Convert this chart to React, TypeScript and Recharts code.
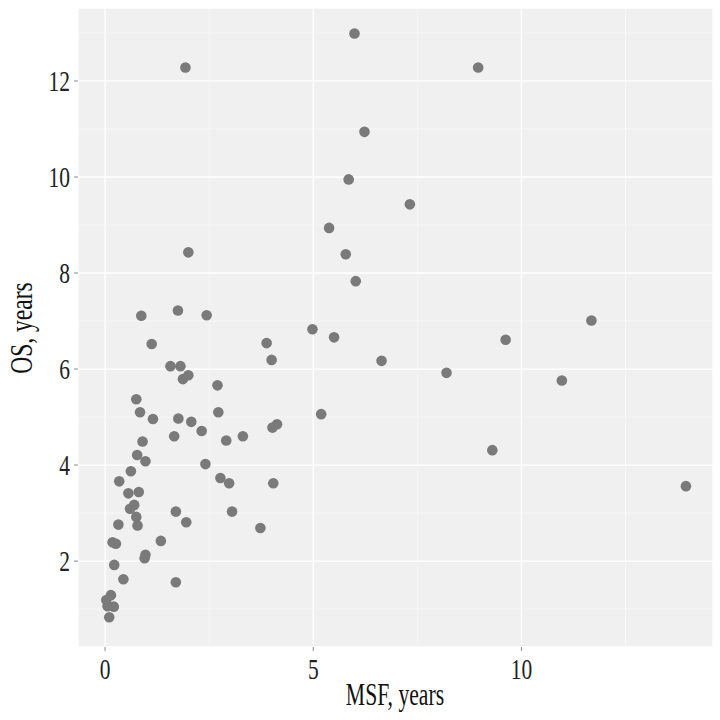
import { ScatterChart, Scatter, XAxis, YAxis, CartesianGrid, ReferenceLine } from "recharts";

// MSF (x) and OS (y), years
const msf = [
  1.93, 8.96, 5.99, 6.23, 5.85, 7.32, 5.38, 5.78, 2.0, 6.02,
  0.87, 1.75, 2.44, 11.68, 4.98, 5.5, 9.62, 1.12, 3.88, 4.0,
  6.64, 1.57, 1.81, 8.2, 2.0, 1.87, 10.97, 2.7, 0.75, 0.84,
  2.72, 5.19, 1.15, 1.76, 2.07, 4.13, 4.02, 2.32, 1.66, 3.31,
  2.91, 0.9, 9.3, 0.77, 0.97, 2.41, 0.62, 2.77, 0.34, 2.98,
  4.04, 13.95, 0.81, 0.56, 0.7, 0.6, 1.7, 3.05, 0.75, 1.95,
  0.32, 0.78, 3.73, 1.34, 0.18, 0.26, 0.97, 0.95, 0.22, 0.44,
  1.7, 0.14, 0.03, 0.06, 0.21, 0.1,
];
const os = [
  12.28, 12.28, 12.99, 10.94, 9.95, 9.43, 8.94, 8.39, 8.43, 7.83,
  7.11, 7.22, 7.12, 7.01, 6.83, 6.66, 6.61, 6.52, 6.54, 6.19,
  6.17, 6.06, 6.06, 5.92, 5.87, 5.79, 5.76, 5.66, 5.37, 5.1,
  5.1, 5.06, 4.96, 4.97, 4.9, 4.85, 4.78, 4.71, 4.6, 4.6,
  4.51, 4.49, 4.31, 4.21, 4.08, 4.02, 3.87, 3.73, 3.66, 3.62,
  3.62, 3.56, 3.44, 3.41, 3.17, 3.09, 3.03, 3.03, 2.92, 2.81,
  2.76, 2.74, 2.69, 2.42, 2.39, 2.36, 2.13, 2.06, 1.92, 1.62,
  1.56, 1.29, 1.19, 1.06, 1.05, 0.83,
];

const xTicks = [0, 5, 10];
const yTicks = [2, 4, 6, 8, 10, 12];
const xMinor = [2.5, 7.5, 12.5];
const yMinor = [1, 3, 5, 7, 9, 11, 13];

const data = msf.map((x, i) => ({ x, y: os[i] }));

const FONT = "'Liberation Serif', 'DejaVu Serif', serif";
const SQUEEZE = 0.74;

const XTick = (props: any) => {
  const { x, y, payload } = props;
  return (
    <text
      transform={`translate(${x},${y + 26}) scale(${SQUEEZE},1)`}
      textAnchor="middle"
      fontFamily={FONT}
      fontSize={29}
      fill="#222"
    >
      {payload.value}
    </text>
  );
};

const YTick = (props: any) => {
  const { x, y, payload } = props;
  return (
    <text
      transform={`translate(${x - 2},${y + 10}) scale(${SQUEEZE},1)`}
      textAnchor="end"
      fontFamily={FONT}
      fontSize={29}
      fill="#222"
    >
      {payload.value}
    </text>
  );
};

const Dot = (props: any) => (
  <circle cx={props.cx} cy={props.cy} r={5.3} fill="#7a7a7a" />
);

export default function App() {
  return (
    <div style={{ position: "fixed", left: 0, top: 0, width: 720, height: 720, background: "#fff" }}>
      <ScatterChart
        width={720}
        height={720}
        margin={{ top: 8, right: 7, bottom: 0, left: 0 }}
      >
        <CartesianGrid fill="#f0f0f0" stroke="#ffffff" strokeWidth={1.3} />
        {xMinor.map((v) => (
          <ReferenceLine key={"vx" + v} x={v} stroke="#fafafa" strokeWidth={0.6} />
        ))}
        {yMinor.map((v) => (
          <ReferenceLine key={"hy" + v} y={v} stroke="#fafafa" strokeWidth={0.6} />
        ))}
        <XAxis
          type="number"
          dataKey="x"
          domain={[-0.65, 14.6]}
          ticks={xTicks}
          allowDataOverflow
          height={73}
          axisLine={false}
          tickSize={4}
          tickLine={{ stroke: "#8a8a8a" }}
          tick={<XTick />}
          label={{
            content: () => (
              <text
                transform={`translate(395,705) scale(0.7,1)`}
                textAnchor="middle"
                fontFamily={FONT}
                fontSize={31}
                fill="#111"
              >
                MSF, years
              </text>
            ),
          }}
        />
        <YAxis
          type="number"
          dataKey="y"
          domain={[0.21, 13.52]}
          ticks={yTicks}
          allowDataOverflow
          width={78}
          axisLine={false}
          tickSize={4}
          tickLine={{ stroke: "#8a8a8a" }}
          tick={<YTick />}
          label={{
            content: () => (
              <text
                transform={`translate(32,328) rotate(-90) scale(0.76,1)`}
                textAnchor="middle"
                fontFamily={FONT}
                fontSize={31}
                fill="#111"
              >
                OS, years
              </text>
            ),
          }}
        />
        <Scatter data={data} shape={<Dot />} isAnimationActive={false} />
      </ScatterChart>
    </div>
  );
}
